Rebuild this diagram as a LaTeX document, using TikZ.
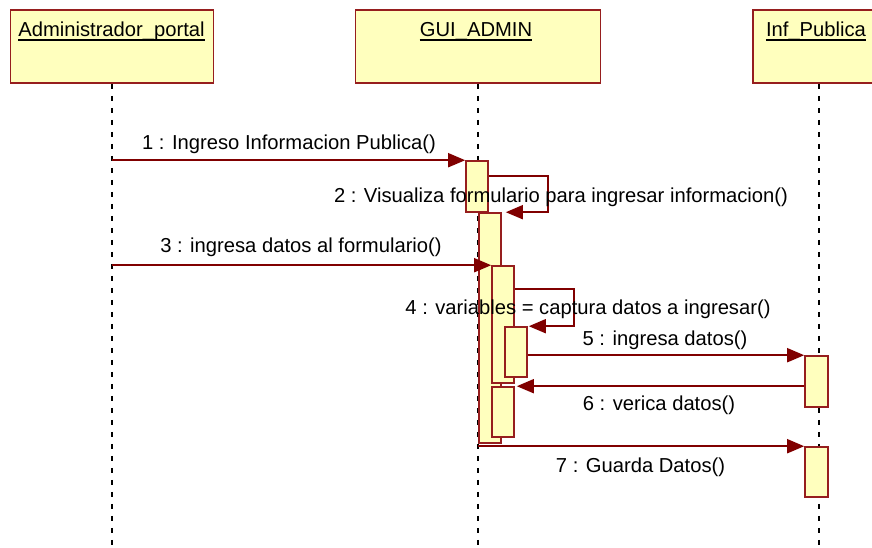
\documentclass[tikz,border=0pt]{standalone}
\usepackage{fontspec}
\setmainfont{Liberation Sans}
\usetikzlibrary{arrows.meta}
\definecolor{boxred}{RGB}{150,30,30}
\definecolor{msgred}{RGB}{128,0,0}
\definecolor{paleyel}{RGB}{255,255,190}
\begin{document}
\begin{tikzpicture}[x=1pt,y=-1pt,
  head/.style={draw=boxred, fill=paleyel, line width=1.8pt, rectangle, inner sep=0, minimum height=73pt},
  actbar/.style={draw=boxred, fill=paleyel, line width=1.6pt, rectangle, inner sep=0, minimum width=22pt},
  life/.style={black, line width=1.6pt, dash pattern=on 5pt off 7pt},
  msg/.style={msgred, line width=1.7pt, -{Triangle[length=17pt,width=14pt]}},
  lbl/.style={font=\fontsize{20.2}{23}\selectfont, inner sep=0, text=black},
  htext/.style={font=\fontsize{20.2}{23}\selectfont, inner sep=0, anchor=base, text=black},
  ulin/.style={black, line width=1.8pt}]
\useasboundingbox (0,0) rectangle (872,547);
\clip (0,0) rectangle (872,547);
% heads
\node[head, minimum width=203pt] (adm) at (112,46.5) {};
\node[head, minimum width=245pt] (gui) at (478,46.5) {};
\node[head, minimum width=132pt] (inf) at (819,46.5) {};
\node[htext] (admt) at (111.5,36.5) {Administrador\_portal};
\node[htext] (guit) at (476,36.5) {GUI\_ADMIN};
\node[htext] (inft) at (816,36.5) {Inf\_Publica};
\draw[ulin] ([yshift=-3.5pt]admt.base west) -- ([yshift=-3.5pt]admt.base east);
\draw[ulin] ([yshift=-3.5pt]guit.base west) -- ([yshift=-3.5pt]guit.base east);
\draw[ulin] ([yshift=-3.5pt]inft.base west) -- ([yshift=-3.5pt]inft.base east);
% lifelines
\coordinate (admend) at (112,547);
\coordinate (guiend) at (478,547);
\coordinate (infend) at (819,547);
\draw[life] (adm.south) -- (admend);
\draw[life] (gui.south) -- (guiend);
\draw[life] (inf.south) -- (infend);
% activation bars
\node[actbar, minimum height=51pt] (b1) at (477,186.5) {};
\node[actbar, minimum height=230pt] (b2) at (490,328) {};
\node[actbar, minimum height=117pt] (b3) at (503,324.5) {};
\node[actbar, minimum height=50pt] (b4) at (516,352) {};
\node[actbar, minimum height=50pt] (b5) at (503,412) {};
\node[actbar, minimum width=23pt, minimum height=51pt] (i1) at (816.5,381.5) {};
\node[actbar, minimum width=23pt, minimum height=50pt] (i2) at (816.5,472) {};
% messages
\draw[msg] (adm.south |- b1.north) -- (b1.north west);
\draw[msg] (b1.east |- 0,176) -- ++(59,0) |- ([xshift=4pt]b2.north east);
\draw[msg] (adm.south |- b3.north) -- (b3.north west);
\draw[msg] (b3.east |- 0,289) -- ++(59,0) |- ([xshift=1pt]b4.north east);
\draw[msg] (b4.east |- i1.north) -- (i1.north west);
\draw[msg] (i1.west |- b5.north) -- ([xshift=2pt]b5.north east);
\draw[msg] (b2.south west |- i2.north) -- (i2.north west);
% labels
\node[lbl] (l1) at (289,144) {1 : Ingreso Informacion Publica()};
\node[lbl] (l2) at (561,197) {2 : Visualiza formulario para ingresar informacion()};
\node[lbl] (l3) at (301,247) {3 : ingresa datos al formulario()};
\node[lbl] (l4) at (588,309) {4 : variables = captura datos a ingresar()};
\node[lbl] (l5) at (665,340) {5 : ingresa datos()};
\node[lbl] (l6) at (659,405) {6 : verica datos()};
\node[lbl] (l7) at (640.5,467) {7 : Guarda Datos()};
\end{tikzpicture}
\end{document}
